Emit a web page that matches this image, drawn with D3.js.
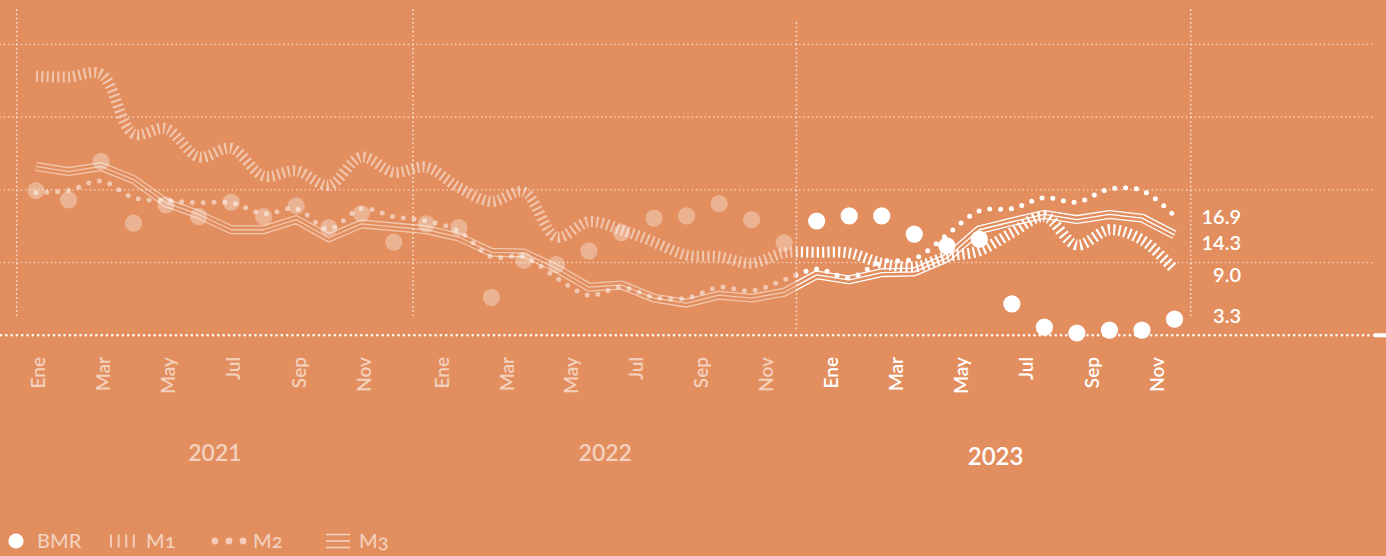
<!DOCTYPE html>
<html>
<head>
<meta charset="utf-8">
<script src="https://cdn.jsdelivr.net/npm/d3@7"></script>
<style>
body { margin: 0; background: #e38e5e; }
svg { display: block; font-family: Lato, "Noto Sans", sans-serif; }
</style>
</head>
<body>
<script>
var width = 1386, height = 556;
var bg = '#e38e5e';
var fade = 0.5;

var years = ['2021', '2022', '2023'];
var monthNames = ['Ene', 'Mar', 'May', 'Jul', 'Sep', 'Nov'];

// monthly values, Ene 2021 .. Dic 2023
var bmr = [19.9, 18.6, 23.9, 15.4, 17.9, 16.3, 18.3, 16.3, 17.8, 14.8, 16.7, 12.8,
           15.3, 14.8, 5.2, 10.3, 9.7, 11.6, 14.1, 16.1, 16.4, 18.1, 15.9, 12.7,
           15.7, 16.4, 16.4, 13.9, 12.3, 13.2, 4.3, 1.1, 0.3, 0.7, 0.7, 2.2];
var m1 = [35.6, 35.5, 35.9, 27.7, 28.4, 24.5, 25.7, 21.9, 22.6, 20.6, 24.5, 22.4,
          23.1, 20.3, 18.4, 19.7, 13.5, 15.6, 14.5, 12.8, 11.0, 10.8, 9.9, 11.3,
          11.4, 11.3, 9.9, 9.4, 10.8, 11.6, 14.1, 16.3, 12.4, 14.5, 13.1, 9.0];
var m2 = [19.6, 19.9, 21.2, 18.9, 18.5, 18.2, 18.2, 16.7, 17.4, 14.6, 17.4, 16.3,
          15.7, 14.3, 10.8, 10.8, 7.9, 5.5, 6.6, 5.2, 5.1, 6.6, 6.1, 7.6,
          9.1, 7.9, 10.1, 10.5, 13.8, 17.1, 17.4, 18.9, 18.3, 20.1, 19.9, 16.4];
var m3 = [23.2, 22.5, 23.2, 21.4, 18.2, 16.6, 14.5, 14.5, 15.9, 13.4, 15.3, 14.9,
          14.5, 13.5, 11.4, 11.3, 9.2, 6.6, 6.9, 5.1, 4.4, 5.5, 5.1, 5.9,
          8.3, 7.6, 8.6, 8.7, 10.6, 14.5, 15.6, 16.6, 15.9, 16.6, 16.1, 13.8];

var endLabels = ['16.9', '14.3', '9.0', '3.3'];
var gridValues = [10, 20, 30, 40];
var legendNames = ['BMR', 'M1', 'M2', 'M3'];

var svg = d3.select('body').append('svg')
  .attr('width', width)
  .attr('height', height);

svg.append('rect').attr('width', width).attr('height', height).attr('fill', bg);

var x = d3.scaleLinear().domain([0, 35]).range([36, 1174.5]);
var y = d3.scaleLinear().domain([0, 40]).range([335.2, 44.3]);
// month labels sit a little off the points in the original
var xLab = d3.scaleLinear().domain([0, 10, 12, 22, 24, 34]).range([38, 364, 442, 766, 831, 1157]);
var split = x(23.5) - 4;

var defs = svg.append('defs');

// grid
svg.append('g').selectAll('line')
  .data(gridValues)
  .enter().append('line')
  .attr('x1', 0).attr('x2', 1375)
  .attr('y1', d => y(d)).attr('y2', d => y(d))
  .attr('stroke', '#fff').attr('stroke-opacity', 0.6)
  .attr('stroke-width', 1.7)
  .attr('stroke-linecap', 'round')
  .attr('stroke-dasharray', '0 4.3');

// year dividers
svg.append('g').selectAll('line')
  .data([0, 1, 2, 3])
  .enter().append('line')
  .attr('x1', d => x(d * 12 - 0.5) + [-3, 3, -4, 0][d])
  .attr('x2', d => x(d * 12 - 0.5) + [-3, 3, -4, 0][d])
  .attr('y1', d => d == 2 ? 23 : 10).attr('y2', d => d == 2 ? 331 : 318)
  .attr('stroke', '#fff').attr('stroke-opacity', 0.7)
  .attr('stroke-width', 1.8)
  .attr('stroke-linecap', 'round')
  .attr('stroke-dasharray', '0 4.3');

// base line
svg.append('line')
  .attr('x1', 1).attr('x2', 1370)
  .attr('y1', y(0)).attr('y2', y(0))
  .attr('stroke', '#fff')
  .attr('stroke-width', 2.6)
  .attr('stroke-linecap', 'round')
  .attr('stroke-dasharray', '0 5.3');
svg.append('line')
  .attr('x1', 1375).attr('x2', 1386)
  .attr('y1', y(0)).attr('y2', y(0))
  .attr('stroke', '#fff')
  .attr('stroke-width', 4)
  .attr('stroke-linecap', 'round');

var idx = d3.range(36);
var smooth = d3.line().x(i => x(i)).curve(d3.curveCatmullRom);
var straight = d3.line().x(i => x(i)).y(i => y(m3[i]));

// draws a path into a mask and paints it faded before 2023, white after
function twoTone(id, fill) {
  var mask = defs.append('mask').attr('id', id)
    .attr('maskUnits', 'userSpaceOnUse')
    .attr('x', 0).attr('y', 0).attr('width', width).attr('height', height);
  fill(mask);
  var g = svg.append('g').attr('mask', 'url(#' + id + ')');
  g.append('rect').attr('x', 0).attr('y', 0).attr('width', split).attr('height', height)
    .attr('fill', '#fff').attr('fill-opacity', fade);
  g.append('rect').attr('x', split).attr('y', 0).attr('width', width - split).attr('height', height)
    .attr('fill', '#fff');
}

twoTone('m1mask', function (mask) {
  mask.append('path')
    .attr('d', smooth.y(i => y(m1[i]))(idx))
    .attr('fill', 'none')
    .attr('stroke', '#fff')
    .attr('stroke-width', 11)
    .attr('stroke-dasharray', '2.1 3.23');
});

twoTone('m2mask', function (mask) {
  mask.append('path')
    .attr('d', smooth.y(i => y(m2[i]))(idx))
    .attr('fill', 'none')
    .attr('stroke', '#fff')
    .attr('stroke-width', 5)
    .attr('stroke-linecap', 'round')
    .attr('stroke-dasharray', '0 10.84');
});

twoTone('m3mask', function (mask) {
  var d = straight(idx);
  [[9, '#fff'], [6.4, '#000'], [1.3, '#fff']].forEach(function (s) {
    mask.append('path')
      .attr('d', d)
      .attr('fill', 'none')
      .attr('stroke', s[1])
      .attr('stroke-width', s[0])
      .attr('stroke-linejoin', 'round');
  });
});

svg.append('g').selectAll('circle')
  .data(idx)
  .enter().append('circle')
  .attr('cx', i => x(i))
  .attr('cy', i => y(bmr[i]))
  .attr('r', 8.6)
  .attr('fill', '#fff')
  .attr('fill-opacity', i => i < 24 ? 0.33 : 1);

// month labels
svg.append('g').selectAll('text')
  .data(idx.filter(i => i % 2 == 0))
  .enter().append('text')
  .attr('transform', i => 'translate(' + xLab(i) + ',357) rotate(-90)')
  .attr('text-anchor', 'end')
  .attr('dy', '0.36em')
  .attr('font-size', 19)
  .attr('font-weight', 600)
  .attr('fill', '#fff')
  .attr('fill-opacity', i => i < 24 ? 0.6 : 1)
  .text(i => monthNames[(i % 12) / 2]);

svg.append('g').selectAll('text')
  .data(years)
  .enter().append('text')
  .attr('x', (d, k) => x(k * 12 + 5.5))
  .attr('y', (d, k) => k == 2 ? 465 : 461)
  .attr('text-anchor', 'middle')
  .attr('font-size', (d, k) => k == 2 ? 24 : 23)
  .attr('font-weight', 600)
  .attr('fill', '#fff')
  .attr('fill-opacity', (d, k) => k == 2 ? 1 : 0.6)
  .text(d => d);

// end values, pushed apart so they don't overlap
var labs = endLabels.map(t => ({ t: t, y: y(+t) })).sort((a, b) => a.y - b.y);
for (var k = 1; k < labs.length; k++) {
  if (labs[k].y - labs[k - 1].y < 26) labs[k].y = labs[k - 1].y + 26;
}
svg.append('g').selectAll('text')
  .data(labs)
  .enter().append('text')
  .attr('x', 1241)
  .attr('y', d => d.y + 5)
  .attr('dy', '0.36em')
  .attr('text-anchor', 'end')
  .attr('font-size', 20)
  .attr('font-weight', 600)
  .attr('fill', '#fff')
  .text(d => d.t);

// legend
var leg = svg.append('g').attr('transform', 'translate(0,541)');
leg.append('circle').attr('cx', 16).attr('cy', 0).attr('r', 7.6).attr('fill', '#fff');
leg.selectAll('rect.tick')
  .data([0, 1, 2, 3])
  .enter().append('rect')
  .attr('x', d => 110 + d * 7.6).attr('y', -6.5)
  .attr('width', 2).attr('height', 13)
  .attr('fill', '#fff').attr('fill-opacity', 0.55);
leg.selectAll('circle.dot')
  .data([0, 1, 2])
  .enter().append('circle')
  .attr('cx', d => 215 + d * 14).attr('cy', 0).attr('r', 3.4)
  .attr('fill', '#fff').attr('fill-opacity', 0.55);
leg.selectAll('line')
  .data([-6.5, 0, 6.5])
  .enter().append('line')
  .attr('x1', 326).attr('x2', 350)
  .attr('y1', d => d).attr('y2', d => d)
  .attr('stroke', '#fff').attr('stroke-opacity', 0.6).attr('stroke-width', 1.6);

leg.selectAll('text')
  .data(legendNames)
  .enter().append('text')
  .attr('x', (d, k) => [37, 146, 253, 359][k])
  .attr('y', 0)
  .attr('dy', '0.36em')
  .attr('font-size', 20)
  .attr('font-weight', 500)
  .attr('fill', '#fff')
  .attr('fill-opacity', 0.6)
  .style('font-variant-numeric', 'oldstyle-nums')
  .text(d => d);
</script>
</body>
</html>
